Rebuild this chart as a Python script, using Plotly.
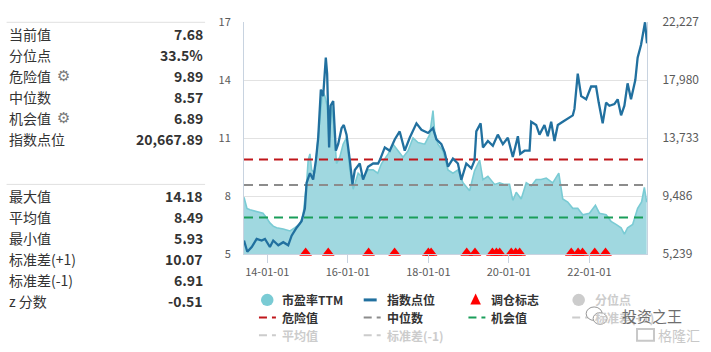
import plotly.graph_objects as go

# ---------------- data ----------------
pe_dates = ["2013-06-04","2013-07-01","2013-07-28","2013-09-27","2013-11-23","2013-12-27",
            "2014-01-25","2014-02-24","2014-03-27","2014-05-26","2014-07-26","2014-09-09",
            "2014-10-24","2014-11-23","2014-12-24","2015-01-07","2015-01-23","2015-02-07",
            "2015-03-09","2015-03-30","2015-04-23","2015-05-18","2015-06-07","2015-06-28",
            "2015-07-16","2015-08-07","2015-08-28","2015-09-21","2015-10-21","2015-11-20",
            "2015-12-21","2016-01-20","2016-02-19","2016-04-04","2016-05-19","2016-07-03",
            "2016-08-18","2016-09-29","2016-11-02","2017-01-01","2017-02-15","2017-04-01",
            "2017-05-16","2017-07-01","2017-08-15","2017-09-29","2017-11-29","2018-01-13",
            "2018-02-12","2018-02-27","2018-03-29","2018-05-13","2018-06-28","2018-08-12",
            "2018-09-26","2018-11-11","2019-01-10","2019-02-24","2019-04-11","2019-05-11",
            "2019-06-25","2019-08-25","2019-10-09","2019-11-23","2020-01-07","2020-02-06",
            "2020-03-08","2020-04-22","2020-06-07","2020-07-22","2020-09-05","2020-10-20",
            "2020-12-05","2021-02-02","2021-03-29","2021-05-04","2021-06-18","2021-08-03",
            "2021-09-17","2021-11-01","2022-01-01","2022-02-24","2022-04-01","2022-06-01",
            "2022-07-16","2022-08-30","2022-10-15","2022-11-14","2022-12-13","2023-01-28",
            "2023-03-14","2023-04-19","2023-05-14","2023-06-04"]
pe_values = [7.94,7.36,7.29,7.19,7.11,6.86,
             6.61,6.44,6.36,6.29,6.19,6.36,
             6.54,7.04,8.68,9.85,10.18,9.35,
             9.18,10.51,12.17,13.45,13.17,12.67,
             10.68,12.67,11.67,9.68,10.02,10.68,
             11.02,9.35,8.35,9.18,8.93,9.35,
             9.35,9.18,9.68,10.18,10.68,10.34,
             10.01,10.34,11.01,10.76,10.68,11.17,
             12.42,11.34,10.68,10.34,9.35,9.18,
             9.35,8.68,8.27,9.30,9.85,8.85,
             9.02,8.60,8.68,8.60,8.60,7.77,
             8.19,7.85,8.68,8.52,8.85,8.85,
             8.93,8.68,9.18,7.85,7.69,7.36,
             7.36,7.03,7.11,7.52,7.11,7.03,
             6.69,6.53,6.36,6.03,6.36,6.53,
             7.36,7.69,8.44,7.68]

idx_dates = ["2013-06-04","2013-07-04","2013-08-13","2013-09-27","2013-11-11","2013-12-11",
             "2014-01-25","2014-02-24","2014-04-11","2014-05-26","2014-07-10","2014-08-10",
             "2014-09-24","2014-11-08","2014-12-08","2014-12-24","2015-01-23","2015-02-21",
             "2015-03-18","2015-04-08","2015-05-02","2015-05-23","2015-06-16","2015-06-28",
             "2015-07-16","2015-07-29","2015-08-22","2015-09-15","2015-10-06","2015-11-06",
             "2015-11-26","2015-12-21","2016-01-20","2016-02-13","2016-03-05","2016-04-19",
             "2016-05-19","2016-07-03","2016-08-18","2016-10-02","2016-10-17","2016-12-02",
             "2017-01-16","2017-03-02","2017-04-16","2017-06-01","2017-07-16","2017-09-15",
             "2017-10-30","2017-12-29","2018-02-12","2018-03-15","2018-04-29","2018-05-29",
             "2018-06-28","2018-08-12","2018-09-26","2018-10-27","2018-12-11","2019-01-26",
             "2019-02-24","2019-03-12","2019-04-20","2019-05-11","2019-06-25","2019-08-09",
             "2019-09-23","2019-11-08","2019-12-23","2020-02-06","2020-03-23","2020-04-13",
             "2020-05-22","2020-07-07","2020-07-22","2020-09-05","2020-10-05","2020-11-19",
             "2020-12-19","2021-01-19","2021-02-18","2021-03-20","2021-05-04","2021-06-18",
             "2021-08-03","2021-08-18","2021-09-17","2021-10-18","2021-12-02","2022-01-16",
             "2022-03-02","2022-03-26","2022-05-01","2022-06-01","2022-07-01","2022-08-15",
             "2022-09-14","2022-10-15","2022-11-14","2022-12-13","2023-01-13","2023-02-21",
             "2023-03-14","2023-04-14","2023-05-05","2023-05-20","2023-06-07"]
idx_values = [6226,5401,5753,6346,6226,6346,
              5753,6226,5873,6106,5873,6578,
              7163,7636,8573,10455,11160,10688,
              12098,13747,17272,16800,19619,18442,
              13042,16095,16447,12802,13275,14452,
              14685,13980,12098,10335,11393,11865,
              10688,11632,11865,11865,12098,13042,
              12802,13627,14213,12802,13747,14805,
              14332,14100,14452,13627,13275,12690,
              11632,12218,11865,10669,11865,11513,
              12098,14213,14805,13042,13512,13160,
              13980,13275,13747,12337,13860,12570,
              12802,12802,14920,14685,13980,14685,
              13860,14920,13512,14685,14920,15157,
              15390,15862,18442,16800,16567,17505,
              17505,16327,14805,16327,16095,16213,
              16567,15390,16095,17738,16567,17977,
              19619,20557,21501,22206,20668]

signal_dates = ["2014-12-15","2015-07-08","2016-07-08","2017-03-01","2018-01-01","2018-01-26",
                "2018-12-15","2019-02-28","2019-08-05","2019-09-10","2019-10-10","2020-01-23",
                "2020-03-03","2020-04-08","2021-07-20","2021-09-20","2021-10-30","2022-02-18",
                "2022-05-27"]
signal_level = 5.05

danger_value = 9.89
median_value = 8.57
chance_value = 6.89

x_start = "2013-06-04"
x_end = "2023-06-07"

x_tick_vals = ["2014-01-01","2016-01-01","2018-01-01","2020-01-01","2022-01-01"]
x_tick_text = ["14-01-01","16-01-01","18-01-01","20-01-01","22-01-01"]
pe_ticks = [5, 8, 11, 14, 17]
idx_ticks = [5239, 9486, 13733, 17980, 22227]
idx_tick_text = ["5,239", "9,486", "13,733", "17,980", "22,227"]

stats_top = [("当前值", "7.68", False), ("分位点", "33.5%", False), ("危险值", "9.89", True),
             ("中位数", "8.57", False), ("机会值", "6.89", True), ("指数点位", "20,667.89", False)]
stats_bottom = [("最大值", "14.18"), ("平均值", "8.49"), ("最小值", "5.93"),
                ("标准差(+1)", "10.07"), ("标准差(-1)", "6.91"), ("z 分数", "-0.51")]

# ---------------- style ----------------
W, H = 711, 352
L, R, T, B = 244, 63, 13, 98
PW, PH = W - L - R, H - T - B
FONT = "Noto Sans CJK SC"
C_AREA = "rgb(160,216,224)"
C_PE = "rgb(122,203,212)"
C_IDX = "rgb(33,112,159)"
C_RED = "rgb(192,22,27)"
C_GREY = "rgb(140,140,140)"
C_GREEN = "rgb(26,158,90)"
C_OFF = "rgb(204,204,204)"
AXC = "rgb(200,211,224)"


def px(x):
    return (x - L) / PW


def py(y):
    return (H - B - y) / PH


fig = go.Figure()
fig.add_trace(go.Scatter(x=pe_dates, y=pe_values, mode="lines", fill="tozeroy",
                         fillcolor=C_AREA, line=dict(color=C_PE, width=1.6),
                         name="市盈率TTM", showlegend=False))
for v, c, nm in [(danger_value, C_RED, "危险值"), (median_value, C_GREY, "中位数"),
                 (chance_value, C_GREEN, "机会值")]:
    fig.add_trace(go.Scatter(x=[x_start, x_end], y=[v, v], mode="lines",
                             line=dict(color=c, width=2, dash="9px,6px"),
                             name=nm, showlegend=False))
fig.add_trace(go.Scatter(x=signal_dates, y=[signal_level] * len(signal_dates), mode="markers",
                         marker=dict(symbol="triangle-up", size=11, color="rgb(255,0,0)"),
                         cliponaxis=False, name="调仓标志", showlegend=False))
fig.add_trace(go.Scatter(x=idx_dates, y=idx_values, mode="lines", yaxis="y2",
                         line=dict(color=C_IDX, width=2.3), name="指数点位", showlegend=False))

tickfont = dict(family=FONT, size=11, color="rgb(90,90,90)")
fig.update_layout(
    width=W, height=H, margin=dict(l=L, r=R, t=T, b=B, pad=0),
    paper_bgcolor="white", plot_bgcolor="white", showlegend=False,
    xaxis=dict(type="date", range=[x_start, x_end], tickvals=x_tick_vals, ticktext=x_tick_text,
               ticks="outside", ticklen=8, tickcolor=AXC, showline=True, linecolor=AXC,
               showgrid=False, zeroline=False, tickfont=tickfont),
    yaxis=dict(range=[5, 17], tickvals=pe_ticks, showgrid=True, gridcolor="rgb(226,226,226)",
               zeroline=False, showline=True, linecolor=AXC, ticks="", tickfont=tickfont,
               ticklabelstandoff=10),
    yaxis2=dict(range=[idx_ticks[0], idx_ticks[-1]], tickvals=idx_ticks, ticktext=idx_tick_text,
                overlaying="y", side="right", showgrid=False, zeroline=False, showline=True,
                linecolor=AXC, ticks="", tickfont=dict(family=FONT, size=12, color="rgb(90,90,90)"),
                ticklabelstandoff=12),
)

ann = []
shapes = []
# ---- left stats panel ----
for yline in (13.3, 181.7):
    shapes.append(dict(type="line", xref="paper", yref="paper", x0=px(6), x1=px(205),
                       y0=py(yline), y1=py(yline), line=dict(color="rgb(224,224,224)", width=1)))
for i, (lab, val, gear) in enumerate(stats_top):
    yy = 25.3 + i * 21.9
    ann.append(dict(text=lab, x=px(6), y=py(yy), xanchor="left", yanchor="middle",
                    font=dict(family=FONT, size=14, color="rgb(51,51,51)")))
    ann.append(dict(text="<b>" + val + "</b>", x=px(205), y=py(yy), xanchor="right",
                    yanchor="middle", font=dict(family=FONT, size=14, color="rgb(51,51,51)")))
    if gear:
        ann.append(dict(text="⚙", x=px(63.5), y=py(yy), xanchor="center", yanchor="middle",
                        font=dict(family="DejaVu Sans", size=15, color="rgb(120,120,120)")))
for i, (lab, val) in enumerate(stats_bottom):
    yy = 193.3 + i * 22.0
    ann.append(dict(text=lab, x=px(6), y=py(yy), xanchor="left", yanchor="middle",
                    font=dict(family=FONT, size=14, color="rgb(51,51,51)")))
    ann.append(dict(text="<b>" + val + "</b>", x=px(205), y=py(yy), xanchor="right",
                    yanchor="middle", font=dict(family=FONT, size=14, color="rgb(51,51,51)")))

# ---- manual legend ----
lf = dict(family=FONT, size=12, color="rgb(51,51,51)")
lfo = dict(family=FONT, size=12, color=C_OFF)


def leg_text(t, x, y, off=False):
    ann.append(dict(text="<b>" + t + "</b>", x=px(x), y=py(y), xanchor="left", yanchor="middle",
                    font=lfo if off else lf))


def leg_circle(cx, cy, r, color):
    shapes.append(dict(type="circle", xref="paper", yref="paper", x0=px(cx - r), x1=px(cx + r),
                       y0=py(cy + r), y1=py(cy - r), fillcolor=color, line=dict(width=0)))


def leg_line(x0, x1, y, color, dash="solid", width=2):
    shapes.append(dict(type="line", xref="paper", yref="paper", x0=px(x0), x1=px(x1),
                       y0=py(y), y1=py(y), line=dict(color=color, width=width, dash=dash)))


r1, r2, r3 = 301.7, 320.0, 338.3
leg_circle(267.3, r1, 6.3, C_PE)
leg_text("市盈率TTM", 280.5, r1)
leg_line(364, 377, r1, C_IDX, width=3)
leg_text("指数点位", 385, r1)
shapes.append(dict(type="path", xref="paper", yref="paper",
                   path=f"M {px(476.2)},{py(295)} L {px(481.5)},{py(306.5)} L {px(470.9)},{py(306.5)} Z",
                   fillcolor="rgb(255,0,0)", line=dict(width=0)))
leg_text("调仓标志", 490, r1)
leg_circle(579.5, r1, 6.3, C_OFF)
leg_text("分位点", 594, r1, off=True)

leg_line(259, 276, r2, C_RED, dash="8px,5px")
leg_text("危险值", 280.5, r2)
leg_line(364, 381, r2, C_GREY, dash="8px,5px")
leg_text("中位数", 385, r2)
leg_line(469, 486, r2, C_GREEN, dash="8px,5px")
leg_text("机会值", 490, r2)
leg_line(573, 590, r2, C_OFF, dash="8px,5px")
leg_text("标准差(+1)", 594, r2, off=True)

leg_line(259, 276, r3, C_OFF, dash="8px,5px")
leg_text("平均值", 280.5, r3, off=True)
leg_line(364, 381, r3, C_OFF, dash="8px,5px")
leg_text("标准差(-1)", 385, r3, off=True)

# ---- watermark ----
shapes.append(dict(type="circle", xref="paper", yref="paper", x0=px(587), x1=px(603),
                   y0=py(323), y1=py(309), fillcolor="rgba(255,255,255,0.85)",
                   line=dict(color="rgb(150,150,150)", width=1)))
shapes.append(dict(type="circle", xref="paper", yref="paper", x0=px(594), x1=px(608),
                   y0=py(327), y1=py(315), fillcolor="rgba(255,255,255,0.85)",
                   line=dict(color="rgb(150,150,150)", width=1)))
ann.append(dict(text="投资之王", x=px(621), y=py(318), xanchor="left", yanchor="middle",
                font=dict(family=FONT, size=15, color="rgb(110,110,110)")))
shapes.append(dict(type="rect", xref="paper", yref="paper", x0=px(638), x1=px(655),
                   y0=py(344), y1=py(332), line=dict(color="rgb(200,200,200)", width=2)))
ann.append(dict(text="格隆汇", x=px(657), y=py(338.5), xanchor="left", yanchor="middle",
                font=dict(family=FONT, size=14, color="rgb(200,200,200)")))

for a in ann:
    a.update(xref="paper", yref="paper", showarrow=False)
fig.update_layout(annotations=ann, shapes=shapes)

fig.write_html("out.html")
